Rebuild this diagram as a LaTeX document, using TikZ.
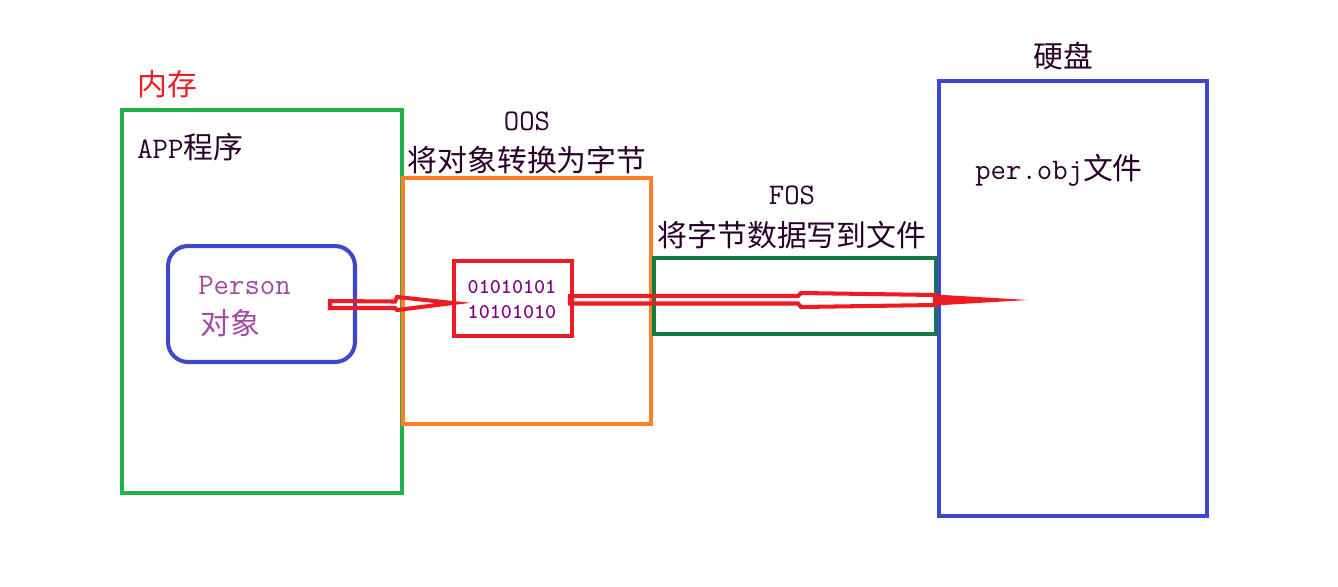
\documentclass[tikz,border=0pt]{standalone}
\usepackage{fontspec}
\usepackage{tikz}
\usetikzlibrary{calc}
\newfontfamily\cjk{Noto Sans CJK SC}
\definecolor{appgreen}{RGB}{34,177,76}
\definecolor{fosgreen}{RGB}{16,124,64}
\definecolor{diskblue}{RGB}{63,72,204}
\definecolor{oosorange}{RGB}{255,127,39}
\definecolor{bytered}{RGB}{237,28,36}
\definecolor{perpurple}{RGB}{163,73,164}
\definecolor{binpurple}{RGB}{128,0,128}
\definecolor{txtdark}{RGB}{40,0,40}
\tikzset{box/.style={draw,line width=2.3pt,line join=miter,inner sep=0pt},
  lbl/.style={text=txtdark,inner sep=0pt,font=\fontsize{17pt}{20pt}\selectfont},
  redline/.style={draw=bytered,line width=2.3pt,line join=miter}}

\begin{document}
\begin{tikzpicture}[line cap=round,line join=round,x=0.02cm,y=-0.02cm]
\useasboundingbox (0,0) rectangle (1338,586);
% boxes
\node[box,draw=appgreen,minimum width=5.6cm,minimum height=7.66cm] (app) at (262,301.5) {};
\node[box,draw=diskblue,rounded corners=0.4cm,minimum width=3.74cm,minimum height=2.32cm] (person) at (261.5,304) {};
\node[box,draw=oosorange,minimum width=4.96cm,minimum height=4.92cm] (oos) at (527,301) {};
\node[box,draw=bytered,minimum width=2.36cm,minimum height=1.5cm] (bytes) at (513,298.5) {};
\node[box,draw=fosgreen,minimum width=5.64cm,minimum height=1.52cm] (fos) at (795,296) {};
\node[box,draw=diskblue,minimum width=5.36cm,minimum height=8.7cm] (disk) at (1073,298.5) {};
% texts
\node[lbl,text=bytered] (mem) at (167,84) {\cjk 内存};
\node[lbl,anchor=west] (applbl) at (137,147) {\ttfamily APP\cjk 程序};
\node[lbl,anchor=west,text=perpurple] (perlbl) at (198,285) {\ttfamily Person};
\node[lbl,anchor=west,text=perpurple] (objlbl) at (200,323) {\cjk 对象};
\node[lbl] (ooslbl) at (527,121) {\ttfamily OOS};
\node[lbl] (oosdesc) at (527,160) {\cjk 将对象转换为字节};
\node[lbl,text=binpurple,font=\fontsize{12pt}{14pt}\selectfont\ttfamily\bfseries] (bin1) at (512,287) {01010101};
\node[lbl,text=binpurple,font=\fontsize{12pt}{14pt}\selectfont\ttfamily\bfseries] (bin2) at (512,312) {10101010};
\node[lbl] (foslbl) at (792,195) {\ttfamily FOS};
\node[lbl] (fosdesc) at (792,235) {\cjk 将字节数据写到文件};
\node[lbl] (disklbl) at (1063,56) {\cjk 硬盘};
\node[lbl,anchor=west] (filelbl) at (975,170) {\ttfamily per.obj\cjk 文件};
% arrows
\coordinate (s1) at (330,304.5);
\coordinate (t1) at (453,303);
\draw[redline] ($(s1)+(0,-3.5)$) -- ($(t1)+(-58,-1.5)$) -- ($(t1)+(-56,-6)$) -- (t1) -- ($(t1)+(-56,7)$) -- ($(t1)+(-58,5)$) -- ($(s1)+(0,3.5)$) -- cycle;
\coordinate (s2) at (bytes.east);
\coordinate (t2) at (1028,300);
\draw[redline] ($(s2)+(-4,-2.5)$) -- (798,296) -- (801,293) -- (935,295) -- (935,305) -- (801,307) -- (798,303.5) -- ($(s2)+(-4,5)$) -- cycle;
\fill[bytered] (935,294.5) -- (t2) -- (935,305.5) -- cycle;
\end{tikzpicture}
\end{document}
